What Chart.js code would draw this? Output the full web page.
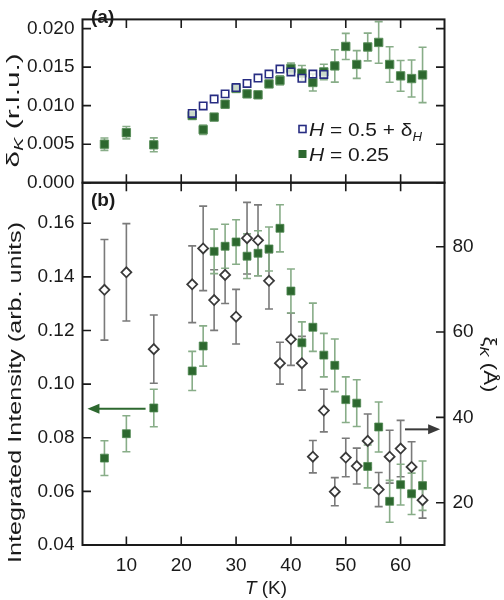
<!DOCTYPE html>
<html>
<head>
<meta charset="utf-8">
<script src="https://cdn.jsdelivr.net/npm/chart.js@4.4.1/dist/chart.umd.min.js"></script>
<style>
  body { margin: 0; background: #fff; }
  #wrap { position: relative; width: 504px; height: 600px; }
  #wrap canvas { position: absolute; left: 0; top: 0; }
</style>
</head>
<body>
<div id="wrap">
  <canvas id="bottomChart" width="504" height="600"></canvas>
  <canvas id="topChart" width="504" height="600"></canvas>
</div>
<script>
// --- data ---
const tempAll = [6, 10, 15, 22, 24, 26, 28, 30, 32, 34, 36, 38, 40, 42, 44, 46, 48, 50, 52, 54, 56, 58, 60, 62, 64];
const tempHalf = [22, 24, 26, 28, 30, 32, 34, 36, 38, 40, 42, 44, 46];

// (a) incommensurability delta_K (r.l.u.)
const deltaQuarter = [0.0050, 0.00649, 0.00492, 0.00872, 0.00688, 0.00852, 0.01019, 0.01223, 0.01153, 0.01141, 0.01282, 0.01329, 0.01484,
  0.01422, 0.01301, 0.01438, 0.01516, 0.01769, 0.01535, 0.01762, 0.01821, 0.01535, 0.01387, 0.01352, 0.01399];
const deltaQuarterErr = [0.0008, 0.0008, 0.0009, 0.0004, 0.0006, 0.0004, 0.0004, 0.0004, 0.0004, 0.0004, 0.0004, 0.0006, 0.0007,
  0.0010, 0.0011, 0.0010, 0.0021, 0.0017, 0.0018, 0.0018, 0.0027, 0.0023, 0.0020, 0.0024, 0.0036];
const deltaHalf = [0.00899, 0.00996, 0.01086, 0.01153, 0.01235, 0.01289, 0.01359, 0.01411, 0.01476, 0.01438, 0.01356, 0.01411, 0.01406];

// (b) integrated intensity (left axis) and correlation length xi_K (right axis)
const intensity = [0.0724, 0.0815, 0.0911, 0.1049, 0.1142, 0.1495, 0.1514, 0.1530, 0.1477, 0.1488, 0.1504, 0.1581, 0.1347,
  0.1154, 0.1212, 0.1108, 0.1070, 0.0942, 0.0929, 0.0693, 0.0840, 0.0563, 0.0625, 0.0591, 0.0621];
const intensityErr = [0.0065, 0.0067, 0.0070, 0.0073, 0.0075, 0.0083, 0.0082, 0.0083, 0.0083, 0.0084, 0.0082, 0.0088, 0.0082,
  0.0078, 0.0090, 0.0081, 0.0098, 0.0085, 0.0087, 0.0080, 0.0093, 0.0078, 0.0076, 0.0077, 0.0092];
const xiK = [69.9, 74.0, 56.0, 71.2, 79.6, 67.5, 73.4, 63.6, 82.0, 81.5, 72.0, 52.7, 58.3,
  52.7, 30.8, 41.6, 22.6, 30.6, 28.6, 34.5, 23.1, 30.8, 32.7, 28.4, 20.6];
const xiKErr = [11.8, 11.4, 8.0, 9.0, 9.9, 7.1, 6.7, 6.4, 8.4, 8.3, 6.6, 4.9, 6.1,
  6.3, 3.8, 5.0, 3.3, 4.5, 4.2, 6.3, 4.0, 6.2, 6.6, 5.9, 4.2];

// tick labels
const tempTicks = [10, 20, 30, 40, 50, 60];
const deltaTicks = [0, 0.005, 0.010, 0.015, 0.020];
const intensityTicks = [0.04, 0.06, 0.08, 0.10, 0.12, 0.14, 0.16];
const xiTicks = [20, 40, 60, 80];

// arrows telling which axis a series belongs to (data coords)
const arrowIntensity = { from: 13.5, to: 2.9, value: 0.0908 };
const arrowXi = { from: 60.8, to: 67.2, value: 37.2 };

const FONT = "'Liberation Sans', Arial, Helvetica, sans-serif";
const GREEN = '#2d682f';
const GREEN_ERR = '#88ad88';
const NAVY = '#272c82';
const GREY = '#3a3a3a';
const GREY_ERR = '#7a7a7a';
const INK = '#1a1a1a';
const TICK_LEN = 8.5;

Chart.defaults.font.family = FONT;
Chart.defaults.font.size = 19;
Chart.defaults.color = INK;

const pts = (xs, ys) => xs.map((x, i) => ({ x: x, y: ys[i] }));

// draws text made of several styled pieces, optionally stretched to a given length
function drawRich(ctx, parts, x, y, angle, opts) {
  opts = opts || {};
  ctx.save();
  ctx.translate(x, y);
  ctx.rotate(angle);
  let w = 0;
  parts.forEach(p => { ctx.font = p.font; p.w = ctx.measureText(p.t).width; w += p.w; });
  if (opts.length) ctx.scale(opts.length / w, 1);
  ctx.fillStyle = INK;
  ctx.textBaseline = 'alphabetic';
  let cx = opts.align === 'left' ? 0 : -w / 2;
  parts.forEach(p => { ctx.font = p.font; ctx.fillText(p.t, cx, p.dy || 0); cx += p.w; });
  ctx.restore();
}

const errorBars = {
  id: 'errorBars',
  beforeDatasetsDraw(chart) {
    const ctx = chart.ctx;
    chart.data.datasets.forEach((ds, i) => {
      if (!ds.errors) return;
      const meta = chart.getDatasetMeta(i);
      const xs = chart.scales[meta.xAxisID];
      const ys = chart.scales[meta.yAxisID];
      ctx.save();
      ctx.strokeStyle = ds.errorColor;
      ctx.lineWidth = 1.6;
      ds.data.forEach((p, j) => {
        const x = xs.getPixelForValue(p.x);
        const lo = ys.getPixelForValue(p.y - ds.errors[j]);
        const hi = ys.getPixelForValue(p.y + ds.errors[j]);
        ctx.beginPath();
        ctx.moveTo(x, lo); ctx.lineTo(x, hi);
        ctx.moveTo(x - 4, lo); ctx.lineTo(x + 4, lo);
        ctx.moveTo(x - 4, hi); ctx.lineTo(x + 4, hi);
        ctx.stroke();
      });
      ctx.restore();
    });
  }
};

// box around the plot with inward tick marks
const frame = {
  id: 'frame',
  afterDraw(chart, args, opts) {
    const { ctx, chartArea: a } = chart;
    ctx.save();
    ctx.strokeStyle = INK;
    ctx.lineWidth = 1.6;
    ctx.beginPath();
    const x = chart.scales.x;
    tempTicks.forEach(v => {
      const px = x.getPixelForValue(v);
      ctx.moveTo(px, a.bottom); ctx.lineTo(px, a.bottom - TICK_LEN);
      ctx.moveTo(px, a.top); ctx.lineTo(px, a.top + TICK_LEN);
    });
    const y = chart.scales.y;
    opts.leftTicks.forEach(v => {
      const py = y.getPixelForValue(v);
      ctx.moveTo(a.left, py); ctx.lineTo(a.left + TICK_LEN, py);
      if (opts.mirror) { ctx.moveTo(a.right, py); ctx.lineTo(a.right - TICK_LEN, py); }
    });
    if (opts.rightTicks) {
      const y2 = chart.scales.y2;
      opts.rightTicks.forEach(v => {
        const py = y2.getPixelForValue(v);
        ctx.moveTo(a.right, py); ctx.lineTo(a.right - TICK_LEN, py);
      });
    }
    ctx.stroke();
    ctx.lineWidth = 2;
    ctx.strokeRect(a.left, a.top, a.right - a.left, a.bottom - a.top);
    ctx.restore();
  }
};

const arrows = {
  id: 'arrows',
  afterDraw(chart) {
    const ctx = chart.ctx;
    const x = chart.scales.x;
    const draw = (arrow, scale, color) => {
      const x0 = x.getPixelForValue(arrow.from);
      const x1 = x.getPixelForValue(arrow.to);
      const py = scale.getPixelForValue(arrow.value);
      const dir = Math.sign(x1 - x0);
      ctx.save();
      ctx.strokeStyle = color;
      ctx.fillStyle = color;
      ctx.lineWidth = 2;
      ctx.beginPath();
      ctx.moveTo(x0, py); ctx.lineTo(x1 - dir * 10, py);
      ctx.stroke();
      ctx.beginPath();
      ctx.moveTo(x1, py);
      ctx.lineTo(x1 - dir * 12, py - 5);
      ctx.lineTo(x1 - dir * 12, py + 5);
      ctx.closePath();
      ctx.fill();
      ctx.restore();
    };
    draw(arrowIntensity, chart.scales.y, GREEN);
    draw(arrowXi, chart.scales.y2, GREY);
  }
};

const texts = {
  id: 'texts',
  afterDraw(chart, args, opts) { opts.draw(chart.ctx); }
};

const hiddenGrid = { display: false, drawTicks: false };

// --- (a) ---
new Chart(document.getElementById('topChart'), {
  type: 'scatter',
  data: {
    datasets: [
      {
        label: 'H = 0.5 + δH', data: pts(tempHalf, deltaHalf),
        pointStyle: 'rect', pointRadius: 5.2, borderWidth: 1.6,
        borderColor: NAVY, backgroundColor: 'rgba(255,255,255,0.75)'
      },
      {
        label: 'H = 0.25', data: pts(tempAll, deltaQuarter), errors: deltaQuarterErr, errorColor: GREEN_ERR,
        pointStyle: 'rect', pointRadius: 5.9, borderWidth: 1,
        borderColor: '#5a8f5b', backgroundColor: GREEN
      }
    ]
  },
  options: {
    responsive: false, animation: false, events: [],
    layout: { padding: { top: 1.7, bottom: 600 - 182.7, left: 0, right: 504 - 444.5 } },
    plugins: {
      legend: { display: false }, tooltip: { enabled: false },
      frame: { leftTicks: deltaTicks, mirror: true },
      texts: {
        draw: ctx => {
          drawRich(ctx, [{ t: '(a)', font: 'bold 19px ' + FONT }], 91, 23, 0, { align: 'left' });
          drawRich(ctx, [
            { t: 'δ', font: '19px ' + FONT },
            { t: 'K', font: 'italic 13px ' + FONT, dy: 4 },
            { t: ' (r.l.u.)', font: '19px ' + FONT }
          ], 19, 110.5, -Math.PI / 2, { length: 114 });
          // legend
          ctx.save();
          ctx.lineWidth = 1.6; ctx.strokeStyle = NAVY; ctx.fillStyle = '#fff';
          ctx.fillRect(299, 125.5, 7, 7); ctx.strokeRect(299, 125.5, 7, 7);
          ctx.fillStyle = GREEN; ctx.fillRect(298.5, 150, 8, 8);
          ctx.restore();
          drawRich(ctx, [
            { t: 'H', font: 'italic 19px ' + FONT },
            { t: ' = 0.5 + δ', font: '19px ' + FONT },
            { t: 'H', font: 'italic 12px ' + FONT, dy: 5 }
          ], 309, 135.5, 0, { align: 'left', length: 113 });
          drawRich(ctx, [
            { t: 'H', font: 'italic 19px ' + FONT },
            { t: ' = 0.25', font: '19px ' + FONT }
          ], 309, 161, 0, { align: 'left', length: 80 });
        }
      }
    },
    scales: {
      x: { type: 'linear', display: false, min: 2, max: 68 },
      y: {
        min: 0, max: 0.0212,
        afterFit: s => { s.width = 82.5; },
        afterBuildTicks: s => { s.ticks = deltaTicks.map(v => ({ value: v })); },
        grid: hiddenGrid, border: { display: false },
        ticks: { padding: 8, callback: v => v.toFixed(3) }
      }
    }
  },
  plugins: [errorBars, frame, texts]
});

// --- (b) ---
new Chart(document.getElementById('bottomChart'), {
  type: 'scatter',
  data: {
    datasets: [
      {
        label: 'xi_K', data: pts(tempAll, xiK), yAxisID: 'y2', errors: xiKErr, errorColor: GREY_ERR,
        pointStyle: 'rectRot', pointRadius: 5, borderWidth: 1.8,
        borderColor: GREY, backgroundColor: '#fff'
      },
      {
        label: 'Intensity', data: pts(tempAll, intensity), yAxisID: 'y', errors: intensityErr, errorColor: GREEN_ERR,
        pointStyle: 'rect', pointRadius: 5.6, borderWidth: 0.8,
        borderColor: '#4f8851', backgroundColor: GREEN
      }
    ]
  },
  options: {
    responsive: false, animation: false, events: [],
    layout: { padding: { top: 182.7, bottom: 0, left: 0, right: 0 } },
    plugins: {
      legend: { display: false }, tooltip: { enabled: false },
      frame: { leftTicks: intensityTicks, rightTicks: xiTicks },
      texts: {
        draw: ctx => {
          drawRich(ctx, [{ t: '(b)', font: 'bold 19px ' + FONT }], 91, 206, 0, { align: 'left' });
          drawRich(ctx, [{ t: 'Integrated Intensity (arb. units)', font: '19px ' + FONT }],
            21, 392.5, -Math.PI / 2, { length: 341 });
          drawRich(ctx, [
            { t: 'ξ', font: '19px ' + FONT },
            { t: 'K', font: 'italic 13px ' + FONT, dy: 4 },
            { t: ' (Å)', font: '19px ' + FONT }
          ], 484, 364.5, Math.PI / 2, { length: 56 });
          drawRich(ctx, [
            { t: 'T', font: 'italic 19px ' + FONT },
            { t: ' (K)', font: '19px ' + FONT }
          ], 266, 593.5, 0, { length: 42 });
        }
      }
    },
    scales: {
      x: {
        type: 'linear', position: 'bottom', min: 2, max: 68,
        afterFit: s => { s.height = 55; },
        afterBuildTicks: s => { s.ticks = tempTicks.map(v => ({ value: v })); },
        grid: hiddenGrid, border: { display: false },
        ticks: { padding: 9, maxRotation: 0, autoSkip: false }
      },
      y: {
        position: 'left', min: 0.04, max: 0.1751,
        afterFit: s => { s.width = 82.5; },
        afterBuildTicks: s => { s.ticks = intensityTicks.map(v => ({ value: v })); },
        grid: hiddenGrid, border: { display: false },
        ticks: { padding: 8, callback: v => v.toFixed(2) }
      },
      y2: {
        position: 'right', min: 10.1, max: 95,
        afterFit: s => { s.width = 59.5; },
        afterBuildTicks: s => { s.ticks = xiTicks.map(v => ({ value: v })); },
        grid: hiddenGrid, border: { display: false },
        ticks: { padding: 8 }
      }
    }
  },
  plugins: [errorBars, frame, arrows, texts]
});
</script>
</body>
</html>
